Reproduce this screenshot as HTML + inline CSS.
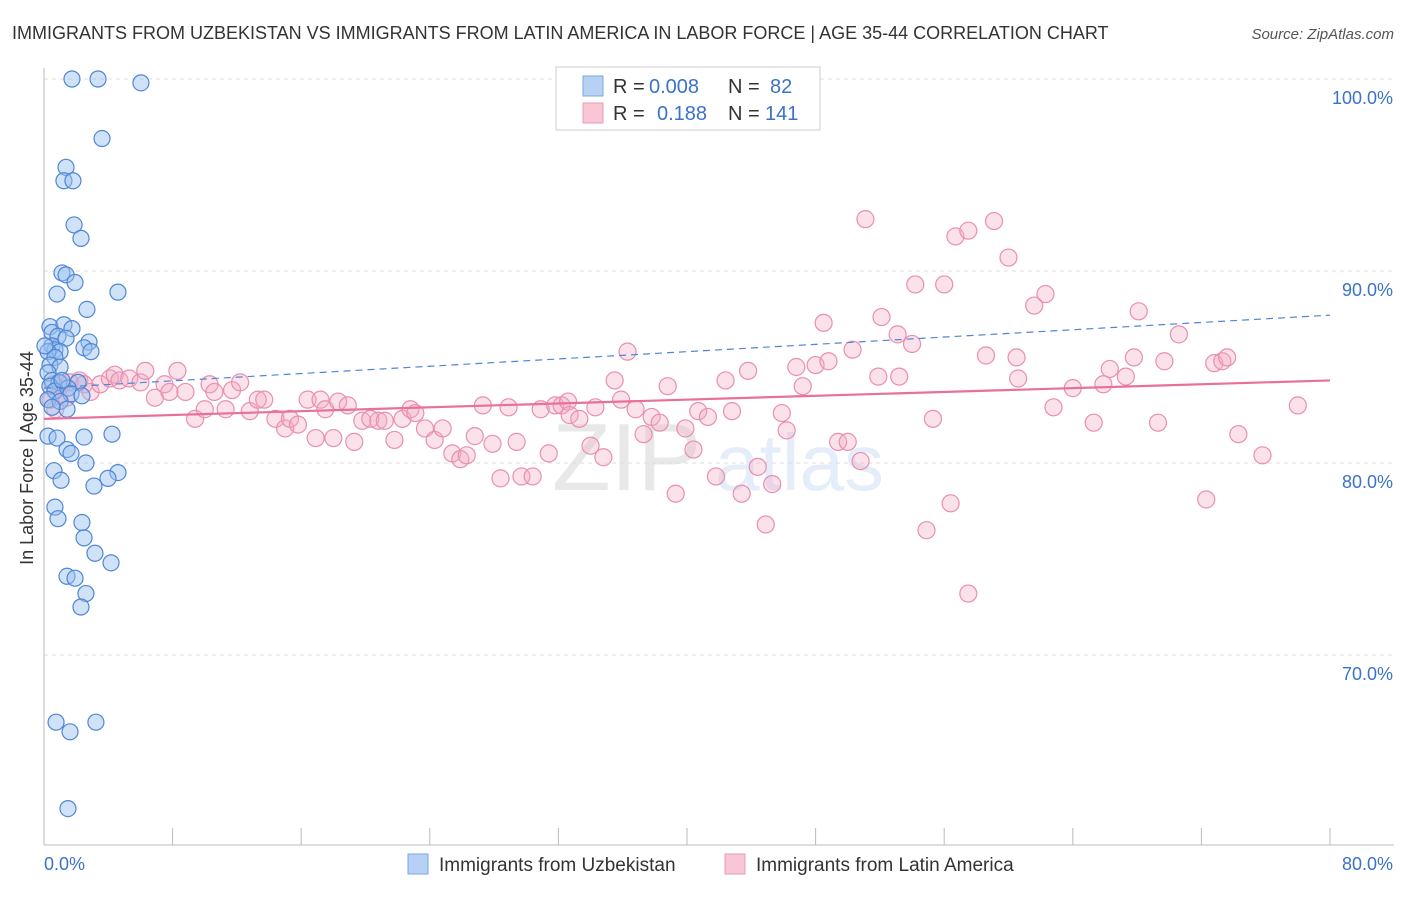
<!DOCTYPE html>
<html><head><meta charset="utf-8"><style>
body{margin:0;background:#fff;font-family:"Liberation Sans",sans-serif;}
svg text{font-family:"Liberation Sans",sans-serif;}
</style></head><body>
<svg id="chart" width="1406" height="892" xmlns="http://www.w3.org/2000/svg">
<text x="12" y="39" font-size="18" fill="#333">IMMIGRANTS FROM UZBEKISTAN VS IMMIGRANTS FROM LATIN AMERICA IN LABOR FORCE | AGE 35-44 CORRELATION CHART</text>
<text x="1394" y="39" font-size="15" fill="#555" text-anchor="end" font-style="italic">Source: ZipAtlas.com</text>
<g opacity="0.13"><text x="552" y="490" font-size="96" font-family="Liberation Serif" fill="#555">ZIP</text><text x="715" y="490" font-size="80" fill="#3a7bd5">atlas</text></g>
<g id="grid"></g>
<g id="axes"></g>
<g id="pink"></g>
<g id="blue"></g>
<g id="trends"></g>
<g>
<rect x="556" y="67" width="264" height="63" fill="#fff" stroke="#ccc"/>
<rect x="583" y="76" width="20" height="20" fill="#b7d1f5" stroke="#7aa6e0"/>
<text x="613" y="93" font-size="20" fill="#333">R = </text><text x="649" y="93" font-size="20" fill="#3a72c8">0.008</text>
<text x="728" y="93" font-size="20" fill="#333">N = </text><text x="770" y="93" font-size="20" fill="#3a72c8">82</text>
<rect x="583" y="103" width="20" height="20" fill="#f8c6d4" stroke="#e89ab4"/>
<text x="613" y="120" font-size="20" fill="#333">R = </text><text x="657" y="120" font-size="20" fill="#3a72c8">0.188</text>
<text x="728" y="120" font-size="20" fill="#333">N = </text><text x="765" y="120" font-size="20" fill="#3a72c8">141</text>
</g>
<g>
<rect x="408" y="854" width="20" height="20" fill="#b7d1f5" stroke="#7aa6e0"/>
<text x="439" y="871" font-size="19" fill="#333">Immigrants from Uzbekistan</text>
<rect x="725" y="854" width="20" height="20" fill="#f8c6d4" stroke="#e89ab4"/>
<text x="756" y="871" font-size="19" fill="#333">Immigrants from Latin America</text>
</g>
<text transform="translate(33,458) rotate(-90)" font-size="18" fill="#333" text-anchor="middle">In Labor Force | Age 35-44</text>
</svg>
<script>
const blueX=[1.74,3.36,6.03,3.61,1.37,1.24,1.8,1.87,2.3,1.12,1.37,1.93,0.81,4.6,2.67,0.37,1.24,1.74,0.5,0.87,1.37,2.8,0.5,0.68,1.0,0.25,2.49,2.92,0.68,0.37,1.0,0.25,0.5,0.93,2.12,0.37,0.68,1.49,1.68,2.36,0.25,1.0,1.43,0.5,0.25,0.81,2.49,4.23,1.43,1.68,2.61,0.62,1.06,4.6,3.98,3.11,0.68,0.87,2.36,2.49,3.17,4.17,1.43,1.93,2.61,2.3,0.75,3.23,1.62,1.49,0.06,1.12];
const blueY=[100,100,99.8,96.9,95.4,94.7,94.7,92.4,91.7,89.9,89.8,89.4,88.8,88.9,88.0,87.1,87.2,87.0,86.8,86.6,86.5,86.3,86.1,85.9,85.8,85.8,86.0,85.8,85.5,85.1,85.0,84.7,84.3,84.2,84.2,84.0,83.75,83.9,83.6,83.5,83.3,83.2,82.8,82.9,81.4,81.3,81.35,81.5,80.7,80.5,80.0,79.6,79.1,79.5,79.2,78.8,77.7,77.1,76.9,76.1,75.3,74.8,74.1,74.0,73.2,72.5,66.5,66.5,66.0,62.0,86.1,84.3];
const pinkX=[0.7,0.9,1.1,1.6,2.2,2.5,2.9,3.5,4.1,4.4,4.7,5.3,6.0,6.3,6.9,7.5,7.8,8.3,8.8,9.4,10.0,10.3,10.6,11.3,11.7,12.2,12.8,13.3,13.7,14.4,15.0,15.3,15.8,16.4,16.9,17.2,17.5,18.0,18.3,18.9,19.3,19.8,20.3,20.8,21.2,21.8,22.3,22.8,23.1,23.7,24.3,24.8,25.4,25.9,26.3,26.8,27.3,27.9,28.4,28.9,29.4,29.7,30.4,30.9,31.4,31.8,32.2,32.6,32.7,33.3,34.0,34.3,34.8,35.5,35.9,36.3,36.8,37.3,37.8,38.3,38.8,39.3,39.9,40.4,40.7,41.3,41.8,42.4,42.8,43.4,43.8,44.4,44.9,45.3,45.9,46.2,46.8,47.2,48.0,48.5,48.8,49.4,50.0,50.3,50.8,51.1,51.9,52.1,53.1,53.2,54.0,54.2,54.9,55.3,56.0,56.4,56.7,57.5,57.5,58.6,59.1,60.0,60.5,60.6,61.6,62.3,62.8,64.0,65.3,65.9,66.3,67.3,67.8,68.1,69.3,69.7,70.6,72.3,72.8,73.3,73.6,74.3,75.8,78.0,0.4,0.6,1.4];
const pinkY=[82.8,83.5,84.1,84.2,84.3,84.1,83.7,84.1,84.4,84.6,84.3,84.4,84.2,84.8,83.4,84.1,83.7,84.8,83.7,82.3,82.8,84.1,83.7,82.8,83.8,84.2,82.7,83.3,83.3,82.3,81.8,82.3,82.0,83.3,81.3,83.3,82.8,81.3,83.2,83.0,81.1,82.2,82.3,82.2,82.2,81.2,82.3,82.8,82.6,81.8,81.2,81.8,80.5,80.2,80.4,81.4,83.0,81.0,79.2,82.9,81.1,79.3,79.3,82.8,80.5,83.0,83.0,83.2,82.5,82.3,80.9,82.9,80.3,84.3,83.3,85.8,82.8,81.5,82.4,82.1,84.0,78.4,81.8,80.7,82.7,82.4,79.3,84.3,82.7,78.4,84.8,79.8,76.8,78.9,82.6,81.7,85.0,84.0,85.1,87.3,85.3,81.1,81.1,85.9,80.1,92.7,84.5,87.6,86.7,84.5,86.2,89.3,76.5,82.3,89.3,77.9,91.8,92.1,73.2,85.6,92.6,90.7,85.5,84.4,88.2,88.8,82.9,83.9,82.1,84.1,84.9,84.5,85.5,87.9,82.1,85.3,86.7,78.1,85.2,85.3,85.5,81.5,80.4,83.0,83.3,84.1,83.4];
const xTicks=[0,8,16,24,32,40,48,56,64,72,80];
const yTicks=[70,80,90,100];
const yTickLabels=["70.0%","80.0%","90.0%","100.0%"];
const blueTrend=[83.9,87.7];
const pinkTrend=[82.3,84.3];
const NS="http://www.w3.org/2000/svg";
const X=v=>44+v*(1286/80);
const Y=v=>79+(100-v)*19.2;
function mk(tag,parent,attrs){const e=document.createElementNS(NS,tag);for(const k in attrs)e.setAttribute(k,attrs[k]);document.getElementById(parent).appendChild(e);return e;}
yTicks.forEach((t,i)=>{
  const l=mk('line','grid',{x1:44,x2:1394,y1:Y(t),y2:Y(t),stroke:'#ddd','stroke-dasharray':'4,4'});
  
  
  const tx=mk('text','axes',{x:1393,y:Y(t)+25,'font-size':18,fill:'#3a72c8','text-anchor':'end'});
  tx.textContent=yTickLabels[i];
  
  
});
const ax=mk('line','axes',{x1:44,x2:44,y1:68,y2:845,stroke:'#bbb'});


const bx=mk('line','axes',{x1:44,x2:1394,y1:845,y2:845,stroke:'#bbb'});


xTicks.forEach(t=>{
  const l=mk('line','axes',{x1:X(t),x2:X(t),y1:828,y2:845,stroke:'#bbb'});
  
  
});
const xl0=mk('text','axes',{x:44,y:870,'font-size':18,fill:'#3a72c8'});xl0.textContent='0.0%';


const xl1=mk('text','axes',{x:1393,y:870,'font-size':18,fill:'#3a72c8','text-anchor':'end'});xl1.textContent='80.0%';


pinkX.forEach((v,i)=>{
  const c=mk('circle','pink',{cx:X(v),cy:Y(pinkY[i]),r:8.5,fill:'rgba(244,170,195,0.35)',stroke:'#e98fb0','stroke-width':1.2});
  
  
});
blueX.forEach((v,i)=>{
  const c=mk('circle','blue',{cx:X(v),cy:Y(blueY[i]),r:8,fill:'rgba(150,190,240,0.45)',stroke:'#4f86d6','stroke-width':1.2});
  
  
});
const bt=mk('line','trends',{x1:X(0),y1:Y(blueTrend[0]),x2:X(80),y2:Y(blueTrend[1]),stroke:'#4f86d6','stroke-width':1.2,'stroke-dasharray':'7,5'});


const pt=mk('line','trends',{x1:X(0),y1:Y(pinkTrend[0]),x2:X(80),y2:Y(pinkTrend[1]),stroke:'#e8709a','stroke-width':2.2});


</script>
</body></html>
